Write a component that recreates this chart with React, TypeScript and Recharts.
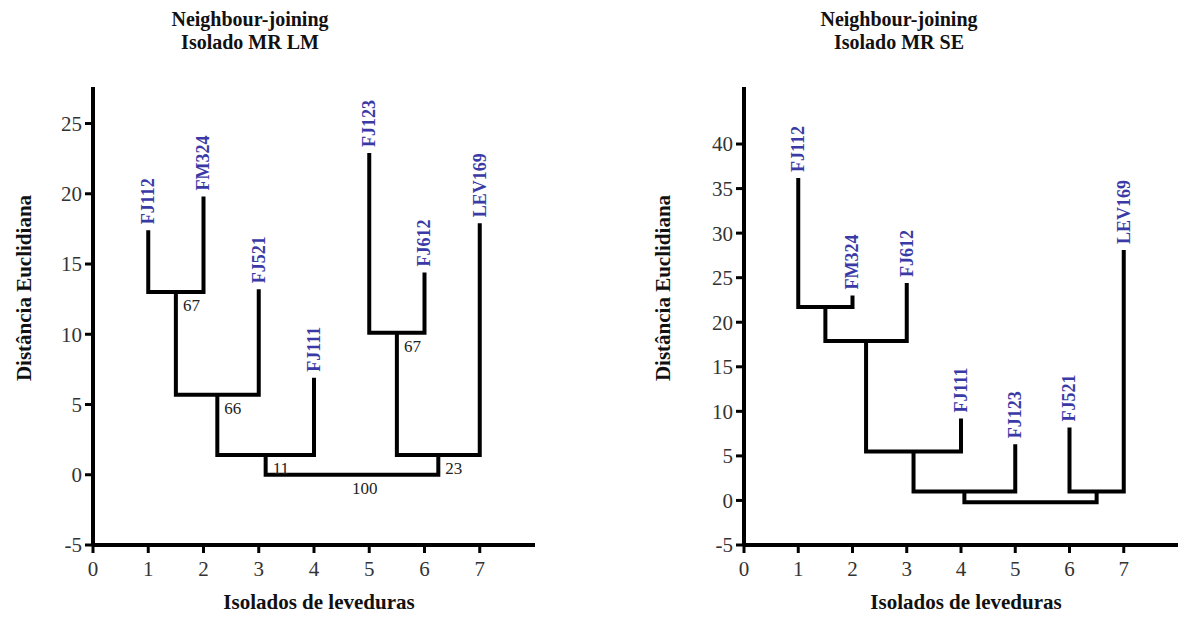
import React from "react";
import { ComposedChart, Line, Scatter, XAxis, YAxis } from "recharts";

// leaves, left to right, with their branch tip heights
const lmLeaves = ["FJ112", "FM324", "FJ521", "FJ111", "FJ123", "FJ612", "LEV169"];
const lmHeights = [17.4, 19.8, 13.2, 6.9, 22.9, 14.4, 17.9];
// joins: child a + child b (index into leaves, then joins as 7, 8, ...)
const lmJoinA = [0, 7, 8, 4, 10, 9];
const lmJoinB = [1, 2, 3, 5, 6, 11];
const lmJoinH = [13.0, 5.7, 1.4, 10.1, 1.4, 0];
const lmSupport = [67, 66, 11, 67, 23, 100];

const seLeaves = ["FJ112", "FM324", "FJ612", "FJ111", "FJ123", "FJ521", "LEV169"];
const seHeights = [36.2, 23.0, 24.4, 9.2, 6.3, 8.2, 28.1];
const seJoinA = [0, 7, 8, 9, 5, 10];
const seJoinB = [1, 2, 3, 4, 6, 11];
const seJoinH = [21.7, 17.9, 5.5, 1.0, 1.0, -0.2];

const xTicks = [0, 1, 2, 3, 4, 5, 6, 7];
const lmYTicks = [-5, 0, 5, 10, 15, 20, 25];
const seYTicks = [-5, 0, 5, 10, 15, 20, 25, 30, 35, 40];

const SERIF = "'Liberation Serif', 'DejaVu Serif', serif";
const BLUE = "#3a3aa6";

type Pt = { x: number; y: number };

function buildTree(names: string[], heights: number[], a: number[], b: number[], h: number[], support?: number[]) {
  const nodes: Pt[] = heights.map((y, i) => ({ x: i + 1, y }));
  const brackets: Pt[][] = [];
  const joins: { x: number; y: number; s?: number; root: boolean }[] = [];
  a.forEach((l, k) => {
    const L = nodes[l];
    const R = nodes[b[k]];
    const node = { x: (L.x + R.x) / 2, y: h[k] };
    nodes.push(node);
    brackets.push([
      { x: L.x, y: L.y },
      { x: L.x, y: h[k] },
      { x: R.x, y: h[k] },
      { x: R.x, y: R.y },
    ]);
    joins.push({ ...node, s: support ? support[k] : undefined, root: k === a.length - 1 });
  });
  const leaves = names.map((name, i) => ({ x: i + 1, y: heights[i], name }));
  return { brackets, joins, leaves };
}

const LeafLabel = (props: any) => {
  const { cx, cy, payload } = props;
  const y = cy - 6;
  return (
    <text
      x={cx}
      y={y}
      dy="0.33em"
      transform={`rotate(-90 ${cx} ${y})`}
      textAnchor="start"
      fill={BLUE}
      style={{ fontFamily: SERIF, fontWeight: "bold", fontSize: 18 }}
    >
      {payload.name}
    </text>
  );
};

const SupportLabel = (props: any) => {
  const { cx, cy, payload } = props;
  if (payload.s === undefined) return <g />;
  return (
    <text x={cx + (payload.root ? 0 : 7)} y={cy + 19} fill="#222" style={{ fontFamily: SERIF, fontSize: 17 }}>
      {payload.s}
    </text>
  );
};

interface PanelProps {
  left: number;
  width: number;
  margin: { top: number; right: number; bottom: number; left: number };
  yMax: number;
  yTicks: number[];
  title: string;
  titleX: number;
  yLabelX: number;
  xLabelX: number;
  tree: ReturnType<typeof buildTree>;
}

function Panel({ left, width, margin, yMax, yTicks, title, titleX, yLabelX, xLabelX, tree }: PanelProps) {
  const bold = { fontFamily: SERIF, fontWeight: "bold" as const, color: "#111" };
  return (
    <div style={{ position: "absolute", left, top: 0, width, height: 617, fontFamily: SERIF }}>
      <div
        style={{
          ...bold,
          position: "absolute",
          left: titleX - left - 150,
          top: 8,
          width: 300,
          textAlign: "center",
          fontSize: 20,
          lineHeight: "23px",
        }}
      >
        Neighbour-joining
        <br />
        {title}
      </div>
      <div
        style={{
          ...bold,
          position: "absolute",
          left: yLabelX - left - 150,
          top: 288 - 12,
          width: 300,
          height: 24,
          lineHeight: "24px",
          textAlign: "center",
          fontSize: 21,
          transform: "rotate(-90deg)",
        }}
      >
        Distância Euclidiana
      </div>
      <div
        style={{
          ...bold,
          position: "absolute",
          left: xLabelX - left - 150,
          top: 602 - 12,
          width: 300,
          height: 24,
          lineHeight: "24px",
          textAlign: "center",
          fontSize: 21,
        }}
      >
        Isolados de leveduras
      </div>
      <ComposedChart width={width} height={617} margin={margin} style={{ fontFamily: SERIF }}>
        <XAxis
          type="number"
          dataKey="x"
          domain={[0, 8]}
          ticks={xTicks}
          allowDataOverflow
          height={40}
          axisLine={{ stroke: "#000", strokeWidth: 4 }}
          tickLine={{ stroke: "#000", strokeWidth: 3 }}
          tickSize={8}
          tickMargin={8}
          tick={{ fill: "#333", fontSize: 21, fontFamily: SERIF }}
        />
        <YAxis
          type="number"
          dataKey="y"
          domain={[-5, yMax]}
          ticks={yTicks}
          allowDataOverflow
          width={60}
          axisLine={{ stroke: "#000", strokeWidth: 4 }}
          tickLine={{ stroke: "#000", strokeWidth: 3 }}
          tickSize={8}
          tickMargin={3}
          tick={{ fill: "#333", fontSize: 21, fontFamily: SERIF }}
        />
        {tree.brackets.map((pts, i) => (
          <Line
            key={i}
            data={pts}
            dataKey="y"
            type="linear"
            stroke="#000"
            strokeWidth={4}
            strokeLinejoin="miter"
            dot={false}
            activeDot={false}
            isAnimationActive={false}
          />
        ))}
        <Scatter data={tree.leaves} dataKey="y" shape={LeafLabel} isAnimationActive={false} />
        <Scatter data={tree.joins} dataKey="y" shape={SupportLabel} isAnimationActive={false} />
      </ComposedChart>
    </div>
  );
}

export default function App() {
  const lm = buildTree(lmLeaves, lmHeights, lmJoinA, lmJoinB, lmJoinH, lmSupport);
  const se = buildTree(seLeaves, seHeights, seJoinA, seJoinB, seJoinH);
  return (
    <div style={{ position: "absolute", left: 0, top: 0, width: 1188, height: 617, background: "#fff", overflow: "hidden" }}>
      <Panel
        left={0}
        width={560}
        margin={{ top: 87, right: 25, bottom: 32, left: 33 }}
        yMax={27.6}
        yTicks={lmYTicks}
        title="Isolado MR LM"
        titleX={250}
        yLabelX={24}
        xLabelX={319}
        tree={lm}
      />
      <Panel
        left={650}
        width={538}
        margin={{ top: 87, right: 10, bottom: 32, left: 34 }}
        yMax={46.4}
        yTicks={seYTicks}
        title="Isolado MR SE"
        titleX={899}
        yLabelX={663}
        xLabelX={966}
        tree={se}
      />
    </div>
  );
}
